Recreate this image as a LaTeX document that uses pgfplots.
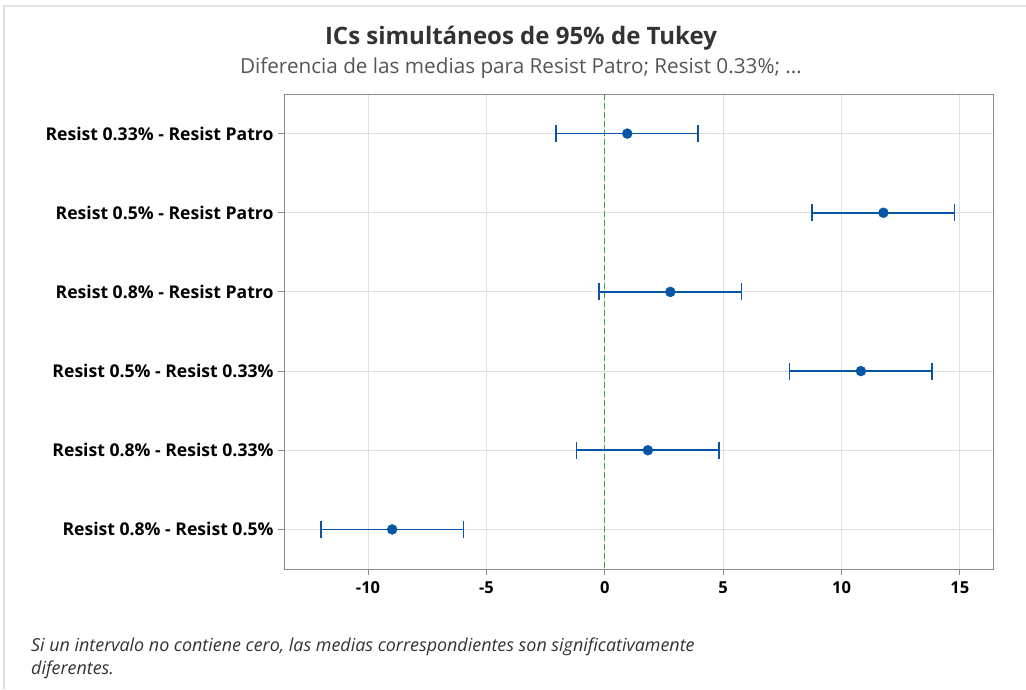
\documentclass[border=0pt]{standalone}
\usepackage{pgfplots}
\usepackage{pgfplotstable}
\pgfplotsset{compat=1.18}
\usepackage{fontspec}
\setmainfont{Open Sans}

\definecolor{ciblue}{HTML}{0756A6}
\definecolor{zerogreen}{HTML}{3A9E4A}
\definecolor{gridgray}{HTML}{E0E0E0}
\definecolor{framegray}{HTML}{8A8A8A}
\definecolor{pagegray}{HTML}{E2E2E2}
\definecolor{titlegray}{HTML}{333333}
\definecolor{subgray}{HTML}{555555}

% Tukey simultaneous 95% intervals: row, estimate, lower, upper
\pgfplotstableread{
row est   lo     hi
1   0.95  -2.05  3.95
2   11.77 8.76   14.78
3   2.77  -0.24  5.78
4   10.82 7.81   13.83
5   1.82  -1.19  4.83
6   -8.98 -11.99 -5.97
}\tukeydata

\begin{document}
\begin{tikzpicture}[x=1pt,y=1pt]
\path[use as bounding box] (0,0) rectangle (1026,689);
% page frame
\draw[line width=1.2pt, pagegray] (4,0) -- (4,683) -- (1026,683);

\begin{axis}[
  at={(284pt,120pt)}, anchor=south west,
  scale only axis, width=709pt, height=475pt,
  xmin=-13.55, xmax=16.4,
  ymin=0.5, ymax=6.5, y dir=reverse,
  xtick={-10,-5,0,5,10,15},
  ytick={1,2,3,4,5,6},
  yticklabels={
    Resist 0.33\% - Resist Patro,
    Resist 0.5\% - Resist Patro,
    Resist 0.8\% - Resist Patro,
    Resist 0.5\% - Resist 0.33\%,
    Resist 0.8\% - Resist 0.33\%,
    Resist 0.8\% - Resist 0.5\%},
  xticklabel style={font=\bfseries\fontsize{16.5}{18}\selectfont, text=black},
  yticklabel style={font=\bfseries\fontsize{17.6}{19}\selectfont, text=black},
  /pgf/number format/assume math mode=true,
  grid=major,
  major grid style={gridgray, line width=1pt},
  axis line style={framegray, line width=1pt},
  tick style={framegray, line width=1pt},
  major tick length=6pt,
  tick align=outside,
  xtick pos=bottom, ytick pos=left,
  x tick label style={yshift=-3pt},
  y tick label style={xshift=-1pt},
]
% zero reference line
\addplot[zerogreen, line width=1.3pt, dash pattern=on 6pt off 3pt]
  coordinates {(0,0.5) (0,6.5)};
% intervals
\addplot[
  only marks, mark=*, mark size=5pt, ciblue,
  mark options={fill=ciblue, draw=ciblue},
  error bars/.cd,
    x dir=both, x explicit,
    error mark=|,
    error bar style={ciblue, line width=1.6pt},
    error mark options={ciblue, line width=1.6pt, mark size=8.5pt},
] table[
  x=est, y=row,
  x error minus expr=\thisrow{est}-\thisrow{lo},
  x error plus expr=\thisrow{hi}-\thisrow{est},
] {\tukeydata};
\end{axis}

\node[font=\bfseries\fontsize{24}{28}\selectfont, text=titlegray] at (521,651) {ICs simultáneos de 95\% de Tukey};
\node[font=\fontsize{20.7}{24}\selectfont, text=subgray] at (521,621) {Diferencia de las medias para Resist Patro; Resist 0.33\%; ...};
\node[anchor=north west, align=left, font=\itshape\fontsize{17.9}{23}\selectfont, text=titlegray, inner sep=0pt] at (31,51)
  {Si un intervalo no contiene cero, las medias correspondientes son significativamente\\diferentes.};
\end{tikzpicture}
\end{document}
